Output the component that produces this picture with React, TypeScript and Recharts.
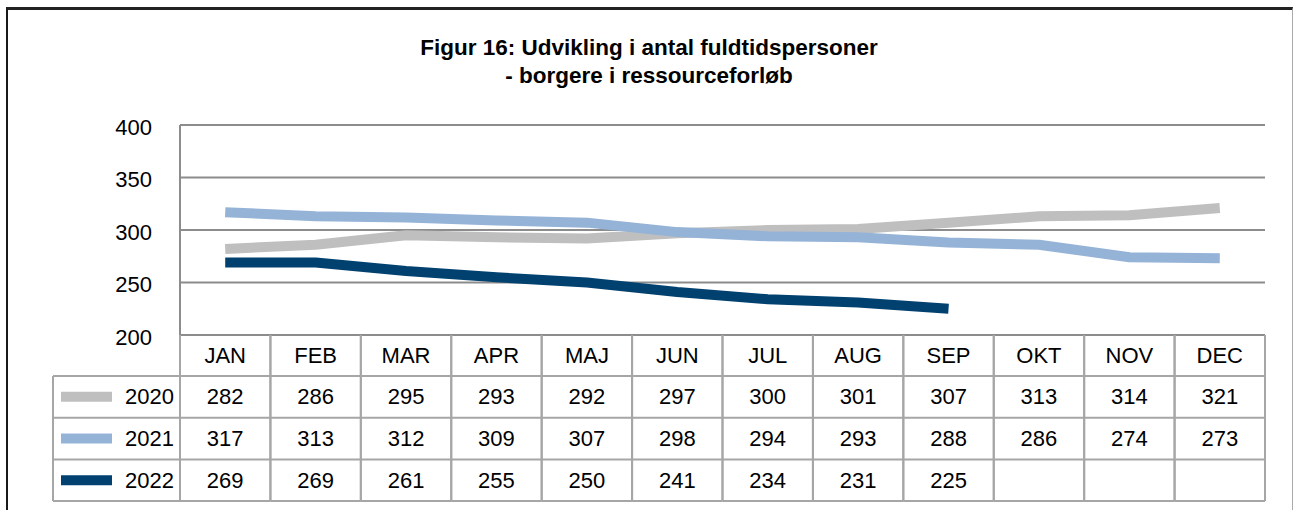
import React from "react";
import { LineChart, Line, XAxis, YAxis, CartesianGrid } from "recharts";

const months = ["JAN", "FEB", "MAR", "APR", "MAJ", "JUN", "JUL", "AUG", "SEP", "OKT", "NOV", "DEC"];
const v2020 = [282, 286, 295, 293, 292, 297, 300, 301, 307, 313, 314, 321];
const v2021 = [317, 313, 312, 309, 307, 298, 294, 293, 288, 286, 274, 273];
const v2022: (number | null)[] = [269, 269, 261, 255, 250, 241, 234, 231, 225, null, null, null];
const yTicks = [200, 250, 300, 350, 400];
const seriesNames = ["2020", "2021", "2022"];
const seriesColors = ["#BFBFBF", "#95B3D7", "#01416F"];
const seriesValues = [v2020, v2021, v2022];

const data = months.map((m, i) => ({ month: m, s2020: v2020[i], s2021: v2021[i], s2022: v2022[i] }));

const W = 1293;
const H = 510;
const PLOT_LEFT = 180;
const PLOT_RIGHT = 1265;
const PLOT_TOP = 125;
const PLOT_BOTTOM = 335;
const COL_W = (PLOT_RIGHT - PLOT_LEFT) / months.length;
const HEADER_H = 41;
const ROW_H = 41.7;
const LEGEND_LEFT = 53;
const FONT = "'Liberation Sans', Arial, sans-serif";
const GRID = "#8C8C8C";
const TABLE_LINE = "#A6A6A6";

function TableTick(props: any) {
  const { x, y, payload } = props;
  const i = months.indexOf(payload.value);
  const left = x - COL_W / 2;
  const right = x + COL_W / 2;
  const rowsTop = y + HEADER_H;
  const bottom = rowsTop + ROW_H * seriesNames.length;
  const els: React.ReactNode[] = [];
  els.push(<line key="vl" x1={left} x2={left} y1={y} y2={bottom} stroke={TABLE_LINE} strokeWidth={2} />);
  els.push(<line key="vr" x1={right} x2={right} y1={y} y2={bottom} stroke={TABLE_LINE} strokeWidth={2} />);
  for (let r = 0; r <= seriesNames.length; r++) {
    const yy = rowsTop + r * ROW_H;
    els.push(<line key={"h" + r} x1={left} x2={right} y1={yy} y2={yy} stroke={TABLE_LINE} strokeWidth={2} />);
  }
  els.push(
    <text key="m" x={x} y={y + HEADER_H / 2} textAnchor="middle" dominantBaseline="central" fontFamily={FONT} fontSize={22} fill="#000">
      {payload.value}
    </text>
  );
  seriesValues.forEach((vals, r) => {
    const v = vals[i];
    if (v == null) return;
    els.push(
      <text key={"v" + r} x={x} y={rowsTop + r * ROW_H + ROW_H / 2} textAnchor="middle" dominantBaseline="central" fontFamily={FONT} fontSize={22} fill="#000">
        {v}
      </text>
    );
  });
  if (i === 0) {
    els.push(<line key="ll" x1={LEGEND_LEFT} x2={LEGEND_LEFT} y1={rowsTop} y2={bottom} stroke={TABLE_LINE} strokeWidth={2} />);
    for (let r = 0; r <= seriesNames.length; r++) {
      const yy = rowsTop + r * ROW_H;
      els.push(<line key={"lh" + r} x1={LEGEND_LEFT} x2={left} y1={yy} y2={yy} stroke={TABLE_LINE} strokeWidth={2} />);
    }
    seriesNames.forEach((n, r) => {
      const cy = rowsTop + r * ROW_H + ROW_H / 2;
      els.push(<line key={"sw" + r} x1={61} x2={112} y1={cy} y2={cy} stroke={seriesColors[r]} strokeWidth={10} />);
      els.push(
        <text key={"ln" + r} x={174} y={cy} textAnchor="end" dominantBaseline="central" fontFamily={FONT} fontSize={22} fill="#000">
          {n}
        </text>
      );
    });
  }
  return <g>{els}</g>;
}

export default function App() {
  return (
    <div style={{ position: "absolute", left: 0, top: 0, width: W, height: H, background: "#fff", overflow: "hidden" }}>
      <div
        style={{
          position: "absolute",
          left: 6,
          top: 7,
          width: 1284,
          height: 520,
          borderLeft: "2px solid #1a1a1a",
          borderTop: "3px solid #222",
          borderRight: "1px solid #aaa",
        }}
      />
      <div style={{ position: "absolute", left: 0, top: 0 }}>
        <LineChart width={W} height={H} data={data} margin={{ top: PLOT_TOP, right: W - PLOT_RIGHT, bottom: 0, left: 0 }}>
          <CartesianGrid horizontal={true} vertical={false} stroke={GRID} strokeWidth={2} />
          <XAxis
            dataKey="month"
            height={H - PLOT_BOTTOM}
            interval={0}
            padding={{ left: COL_W / 2, right: COL_W / 2 }}
            tickLine={false}
            tickSize={0}
            tickMargin={0}
            axisLine={{ stroke: GRID, strokeWidth: 2 }}
            tick={(p: any) => <TableTick {...p} />}
          />
          <YAxis
            width={PLOT_LEFT}
            domain={[200, 400]}
            ticks={yTicks}
            interval={0}
            tickLine={false}
            tickSize={0}
            tickMargin={28}
            axisLine={{ stroke: GRID, strokeWidth: 2 }}
            tick={{ fontFamily: FONT, fontSize: 22, fill: "#000", dy: 2 }}
          />
          <Line type="linear" dataKey="s2020" stroke={seriesColors[0]} strokeWidth={10} dot={false} activeDot={false} strokeLinecap="butt" strokeLinejoin="round" isAnimationActive={false} />
          <Line type="linear" dataKey="s2021" stroke={seriesColors[1]} strokeWidth={10} dot={false} activeDot={false} strokeLinecap="butt" strokeLinejoin="round" isAnimationActive={false} />
          <Line type="linear" dataKey="s2022" stroke={seriesColors[2]} strokeWidth={10} dot={false} activeDot={false} strokeLinecap="butt" strokeLinejoin="round" isAnimationActive={false} />
        </LineChart>
      </div>
      <svg width={W} height={110} style={{ position: "absolute", left: 0, top: 0 }}>
        <text x={649} y={55} textAnchor="middle" fontFamily={FONT} fontWeight="bold" fontSize={22.5} fill="#000">
          Figur 16: Udvikling i antal fuldtidspersoner
        </text>
        <text x={649} y={83} textAnchor="middle" fontFamily={FONT} fontWeight="bold" fontSize={22.5} fill="#000">
          - borgere i ressourceforløb
        </text>
      </svg>
    </div>
  );
}
